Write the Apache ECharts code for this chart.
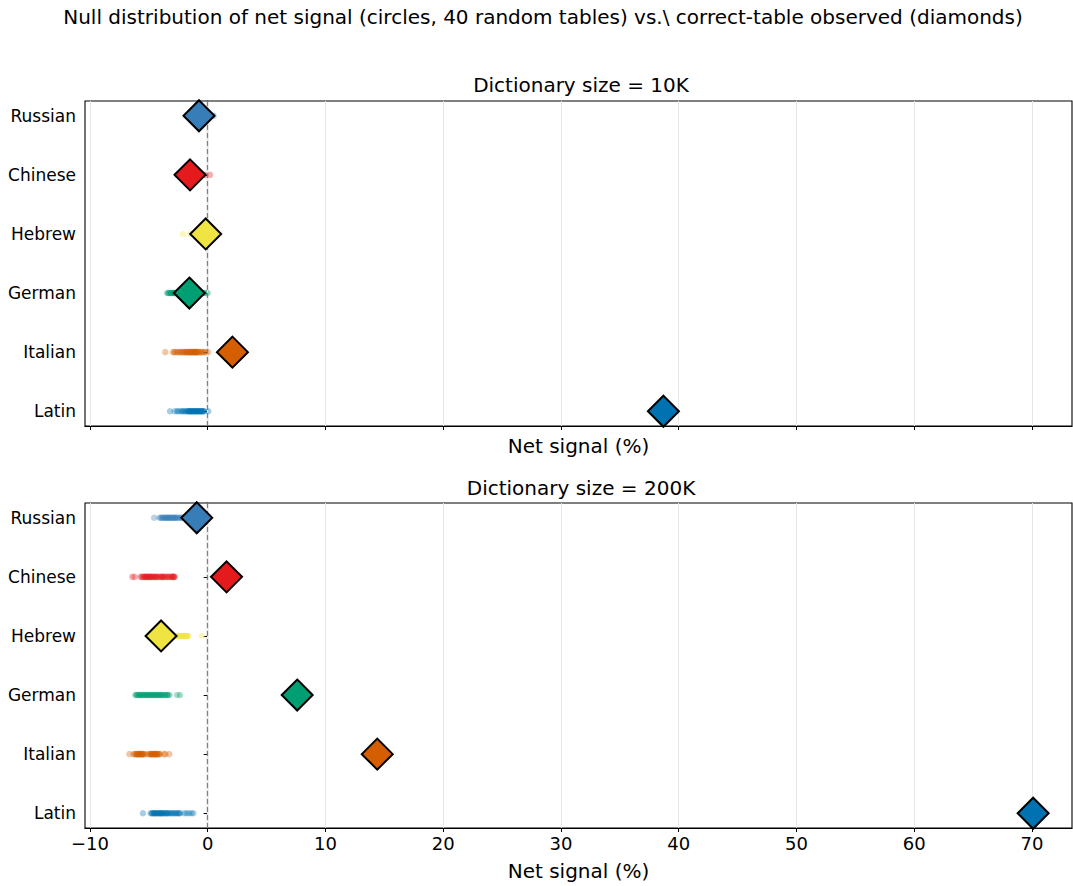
<!DOCTYPE html>
<html>
<head>
<meta charset="utf-8">
<script src="https://cdn.jsdelivr.net/npm/echarts@6/dist/echarts.min.js"></script>
<style>
html,body{margin:0;padding:0;background:#fff;}
#chart{width:1073px;height:886px;}
</style>
</head>
<body>
<div id="chart"></div>
<script>
// ---- data ----
var languages = ['Russian', 'Chinese', 'Hebrew', 'German', 'Italian', 'Latin'];
var langColors = ['#377eb8', '#e41a1c', '#f0e442', '#009e73', '#d55e00', '#0072b2'];
var xTicks = [-10, 0, 10, 20, 30, 40, 50, 60, 70];
var panelTitles = ['Dictionary size = 10K', 'Dictionary size = 200K'];

// observed net signal (correct table), per language, in order of `languages`
var observed10K = [-0.74, -1.5, -0.17, -1.56, 2.1, 38.7];
var observed200K = [-0.93, 1.6, -3.96, 7.6, 14.4, 70.1];

// null distribution (40 random tables), 10K
var nullRussian10K = [-1.8,-1.6,-1.5,-1.4,-1.3,-1.3,-1.2,-1.2,-1.1,-1.1,-1.0,-1.0,-1.0,-0.9,-0.9,-0.9,-0.8,-0.8,-0.8,-0.7,-0.7,-0.7,-0.6,-0.6,-0.6,-0.5,-0.5,-0.5,-0.4,-0.4,-0.3,-0.3,-0.2,-0.2,-0.1,0.0,0.1,0.2,0.4,0.5];
var nullChinese10K = [-2.6,-2.3,-2.2,-2.1,-2.0,-2.0,-1.9,-1.9,-1.8,-1.8,-1.7,-1.7,-1.7,-1.6,-1.6,-1.6,-1.5,-1.5,-1.5,-1.4,-1.4,-1.4,-1.3,-1.3,-1.3,-1.2,-1.2,-1.1,-1.1,-1.0,-1.0,-0.9,-0.9,-0.8,-0.7,-0.6,-0.5,-0.4,-0.2,0.2];
var nullHebrew10K = [-2.1,-1.5,-1.3,-1.2,-1.1,-1.0,-1.0,-0.9,-0.9,-0.8,-0.8,-0.8,-0.7,-0.7,-0.7,-0.6,-0.6,-0.6,-0.5,-0.5,-0.5,-0.5,-0.4,-0.4,-0.4,-0.3,-0.3,-0.3,-0.2,-0.2,-0.2,-0.1,-0.1,0.0,0.0,0.1,0.2,0.3,0.5,0.7];
var nullGerman10K = [-3.45,-3.35,-3.3,-3.2,-3.15,-3.1,-3.0,-3.0,-2.9,-2.9,-2.8,-2.8,-2.7,-2.7,-2.6,-2.5,-2.4,-2.3,-2.2,-2.1,-2.0,-1.9,-1.8,-1.7,-1.6,-1.5,-1.4,-1.3,-1.2,-1.1,-1.0,-0.9,-0.8,-0.7,-0.6,-0.5,-0.4,-0.3,-0.2,0.0];
var nullItalian10K = [-3.6,-2.95,-2.85,-2.75,-2.6,-2.5,-2.4,-2.3,-2.2,-2.1,-2.0,-1.95,-1.9,-1.8,-1.75,-1.7,-1.6,-1.55,-1.5,-1.45,-1.4,-1.35,-1.3,-1.25,-1.2,-1.15,-1.1,-1.05,-1.0,-0.95,-0.9,-0.85,-0.8,-0.7,-0.6,-0.5,-0.4,-0.3,-0.2,0.03];
var nullLatin10K = [-3.2,-2.8,-2.6,-2.5,-2.3,-2.2,-2.1,-2.0,-1.9,-1.8,-1.7,-1.65,-1.6,-1.55,-1.5,-1.45,-1.4,-1.35,-1.3,-1.25,-1.2,-1.15,-1.1,-1.05,-1.0,-0.95,-0.9,-0.85,-0.8,-0.75,-0.7,-0.65,-0.6,-0.55,-0.5,-0.45,-0.4,-0.35,-0.3,0.05];

// null distribution (40 random tables), 200K
var nullRussian200K = [-4.55,-4.1,-4.0,-3.9,-3.8,-3.75,-3.7,-3.6,-3.5,-3.45,-3.4,-3.3,-3.25,-3.2,-3.1,-3.0,-2.95,-2.9,-2.8,-2.75,-2.7,-2.6,-2.5,-2.4,-2.3,-2.2,-2.1,-2.0,-1.9,-1.8,-1.7,-1.6,-1.5,-1.4,-1.3,-1.2,-1.1,-1.0,-0.9,-0.8];
var nullChinese200K = [-6.4,-6.2,-5.7,-5.6,-5.5,-5.4,-5.35,-5.3,-5.2,-5.15,-5.1,-5.0,-4.95,-4.9,-4.8,-4.75,-4.7,-4.6,-4.5,-4.45,-4.4,-4.3,-4.2,-4.1,-4.0,-3.9,-3.85,-3.8,-3.7,-3.6,-3.5,-3.4,-3.3,-3.2,-3.1,-3.0,-2.95,-2.9,-2.85,-2.8];
var nullHebrew200K = [-5.0,-4.8,-4.6,-4.5,-4.4,-4.3,-4.2,-4.1,-4.0,-3.9,-3.8,-3.7,-3.6,-3.5,-3.4,-3.3,-3.2,-3.1,-3.0,-2.9,-2.8,-2.7,-2.6,-2.5,-2.45,-2.4,-2.3,-2.25,-2.2,-2.1,-2.05,-2.0,-1.95,-1.9,-1.85,-1.8,-1.75,-1.7,-1.65,-0.5];
var nullGerman200K = [-6.15,-6.05,-6.0,-5.9,-5.8,-5.75,-5.7,-5.6,-5.5,-5.45,-5.4,-5.3,-5.2,-5.15,-5.1,-5.0,-4.9,-4.85,-4.8,-4.7,-4.6,-4.55,-4.5,-4.4,-4.3,-4.25,-4.2,-4.1,-4.0,-3.95,-3.9,-3.8,-3.7,-3.6,-3.5,-3.45,-3.35,-3.25,-2.6,-2.35];
var nullItalian200K = [-6.65,-6.3,-6.2,-6.1,-6.05,-6.0,-5.95,-5.9,-5.85,-5.8,-5.75,-5.7,-5.65,-5.6,-5.55,-5.5,-5.45,-5.4,-5.2,-5.0,-4.9,-4.85,-4.8,-4.75,-4.7,-4.65,-4.6,-4.55,-4.5,-4.45,-4.4,-4.35,-4.3,-4.25,-4.2,-4.1,-4.05,-3.7,-3.6,-3.26];
var nullLatin200K = [-5.5,-4.85,-4.75,-4.7,-4.6,-4.55,-4.5,-4.45,-4.4,-4.3,-4.25,-4.2,-4.1,-4.05,-4.0,-3.95,-3.9,-3.8,-3.75,-3.7,-3.6,-3.5,-3.45,-3.4,-3.3,-3.2,-3.1,-3.0,-2.9,-2.8,-2.7,-2.6,-2.5,-2.4,-2.35,-2.0,-1.8,-1.6,-1.4,-1.22];

var null10K = [nullRussian10K, nullChinese10K, nullHebrew10K, nullGerman10K, nullItalian10K, nullLatin10K];
var null200K = [nullRussian200K, nullChinese200K, nullHebrew200K, nullGerman200K, nullItalian200K, nullLatin200K];

// ---- chart ----
var FONT = 'DejaVu Sans';
var chart = echarts.init(document.getElementById('chart'), null, {renderer: 'svg'});

var gridTops = [101, 503];
var grids = gridTops.map(function (t) {
  return {left: 85, right: 1, top: t, height: 325, show: true, borderColor: '#000', borderWidth: 1.1, backgroundColor: 'transparent'};
});

function fmtX(v) { return v < 0 ? '\u2212' + Math.abs(v) : String(v); }

var xAxes = [0, 1].map(function (i) {
  return {
    type: 'value', gridIndex: i, min: -10.42, max: 73.4,
    name: 'Net signal (%)', nameLocation: 'middle', nameGap: i === 0 ? 10 : 33,
    nameTextStyle: {fontFamily: FONT, fontSize: 20, color: '#000'},
    axisLine: {show: true, onZero: false, lineStyle: {color: '#000', width: 1.1}},
    axisTick: {show: true, length: 4, customValues: xTicks, lineStyle: {color: '#000', width: 1}},
    axisLabel: {show: i === 1, customValues: xTicks, formatter: fmtX, fontFamily: FONT, fontSize: 18, color: '#000', margin: 6},
    splitLine: {show: false}
  };
});

var yAxes = [0, 1].map(function (i) {
  return {
    type: 'value', gridIndex: i, min: -0.25, max: 5.25, inverse: true,
    axisLine: {show: true, lineStyle: {color: '#000', width: 1.1}},
    axisTick: {show: true, length: 4, customValues: [0, 1, 2, 3, 4, 5], lineStyle: {color: '#000', width: 1}},
    axisLabel: {show: true, customValues: [0, 1, 2, 3, 4, 5], formatter: function (v) { return languages[Math.round(v)]; }, fontFamily: FONT, fontSize: 17, color: '#000', margin: 9},
    splitLine: {show: false}
  };
});

var series = [];
[0, 1].forEach(function (p) {
  // grid lines + zero line
  series.push({
    type: 'scatter', xAxisIndex: p, yAxisIndex: p, data: [], z: 1, silent: true,
    markLine: {
      silent: true, symbol: 'none', label: {show: false}, animation: false,
      lineStyle: {color: '#e6e6e6', width: 1, type: 'solid'},
      data: xTicks.map(function (v) { return {xAxis: v}; })
    }
  });
  series.push({
    type: 'scatter', xAxisIndex: p, yAxisIndex: p, data: [], z: 2, silent: true,
    markLine: {
      silent: true, symbol: 'none', label: {show: false}, animation: false,
      lineStyle: {color: '#808080', width: 1.2, type: [5, 3]},
      data: [{xAxis: 0}]
    }
  });
  var nulls = p === 0 ? null10K : null200K;
  nulls.forEach(function (arr, li) {
    series.push({
      type: 'scatter', xAxisIndex: p, yAxisIndex: p, z: 3, symbol: 'circle', symbolSize: 6.5,
      itemStyle: {color: langColors[li], opacity: 0.35},
      data: arr.map(function (v) { return [v, li]; })
    });
  });
  var obs = p === 0 ? observed10K : observed200K;
  series.push({
    type: 'scatter', xAxisIndex: p, yAxisIndex: p, z: 5, symbol: 'diamond', symbolSize: 31,
    data: obs.map(function (v, li) {
      return {value: [v, li], itemStyle: {color: langColors[li], borderColor: '#000', borderWidth: 2, opacity: 1}};
    })
  });
});

chart.setOption({
  animation: false,
  backgroundColor: '#fff',
  textStyle: {fontFamily: FONT},
  grid: grids,
  xAxis: xAxes,
  yAxis: yAxes,
  series: series,
  graphic: [
    {type: 'text', x: 543, y: 17, style: {text: 'Null distribution of net signal (circles, 40 random tables) vs.\\ correct-table observed (diamonds)', font: '20px "DejaVu Sans"', fill: '#000', textAlign: 'center', textVerticalAlign: 'middle'}},
    {type: 'text', x: 581, y: 85, style: {text: panelTitles[0], font: '20px "DejaVu Sans"', fill: '#000', textAlign: 'center', textVerticalAlign: 'middle'}},
    {type: 'text', x: 581, y: 488, style: {text: panelTitles[1], font: '20px "DejaVu Sans"', fill: '#000', textAlign: 'center', textVerticalAlign: 'middle'}}
  ]
});
</script>
</body>
</html>
